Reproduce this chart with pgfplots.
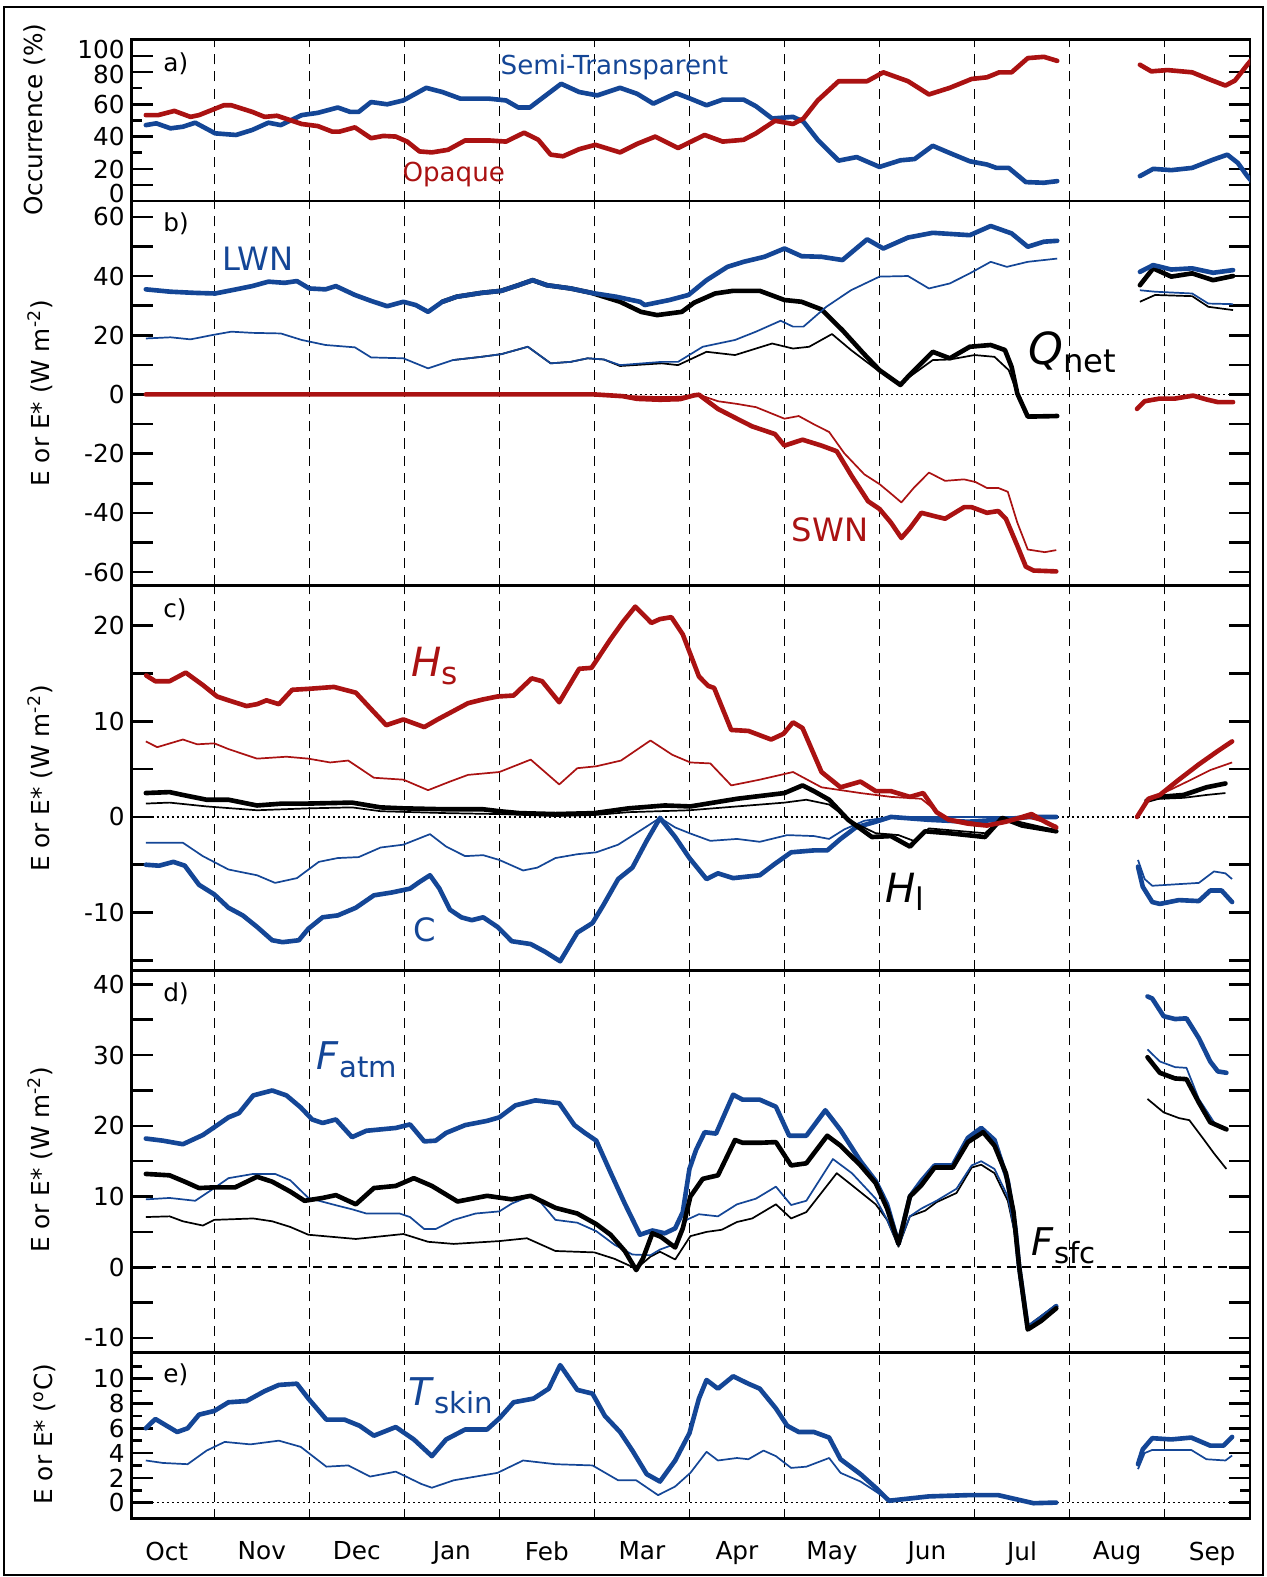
\documentclass[border=0pt]{standalone}
\usepackage{fontspec}
\setmainfont{DejaVu Sans}
\usepackage{pgfplots}
\pgfplotsset{compat=1.18}
\definecolor{cblue}{RGB}{20,70,150}
\definecolor{cred}{RGB}{170,18,18}
\newcommand{\fs}[1]{\fontsize{#1}{#1}\selectfont}
\newcommand{\sublab}[5]{{\fs{#1}\itshape #2\/}\raisebox{-#5}{\fs{#3}#4}}
\newcommand{\sh}[2]{\raisebox{#1}[\height][\depth]{#2}}
\newcommand{\monthlines}[2]{\pgfplotsinvokeforeach{1,...,11}{\draw[black,line width=0.6pt,dash pattern=on 5pt off 3.5pt] (axis cs:##1,#1) -- (axis cs:##1,#2);}}
\pgfplotsset{
  panel/.style={
    scale only axis, width=556pt, anchor=north west,
    xmin=0.132, xmax=11.90,
    axis line style={line width=1.3pt},
    every tick/.style={line width=1.3pt, black},
    tick align=inside,
    ytick pos=both, yticklabel pos=left,
    xtick=\empty,
    major tick length=10.5pt, minor tick length=5pt,
    yticklabel style={font=\fs{12.3}, /pgf/number format/assume math mode=true},
    clip=true,
  },
  thick/.style={line width=2.3pt, line join=round, line cap=round},
  thin/.style={line width=0.85pt, line join=round},
}
\begin{document}
\begin{tikzpicture}
\path (0,0) rectangle (629.5pt,-784pt);
\draw[line width=1pt] (2pt,-3.5pt) rectangle (628pt,-783pt);
% y labels
\node[rotate=90,font=\fs{12.3}] at (17.5pt,-59.5pt) {Occurrence (\%)};
\node[rotate=90,font=\fs{12.3}] at (20pt,-195.5pt) {E or E* (W m\textsuperscript{-2})};
\node[rotate=90,font=\fs{12.3}] at (20pt,-387pt) {E or E* (W m\textsuperscript{-2})};
\node[rotate=90,font=\fs{12.3}] at (20pt,-576.5pt) {E or E* (W m\textsuperscript{-2})};
\node[rotate=90,font=\fs{12.3}] at (22pt,-713pt) {E or E* (\textsuperscript{o}C)};

% ---------------- panel a
\begin{axis}[panel, at={(65.5pt,-19.75pt)}, height=80.25pt, ymin=0, ymax=100,
  ytick={10,20,40,60,80,90},
  yticklabels={\sh{-4pt}{0},\sh{-0.5pt}{20},40,60,\sh{-1pt}{80},\sh{3pt}{100}},
  minor ytick={30,50,70}]
\monthlines{0}{100}
\addplot[cblue,thick] coordinates {(0.28,47.1)(0.39,48.2)(0.54,45.1)(0.67,46.1)(0.80,48.6)(1.01,42.0)(1.23,41.0)(1.40,44.1)(1.57,48.6)(1.70,47.1)(1.92,53.3)(2.09,54.7)(2.30,58.0)(2.43,55.3)(2.52,55.3)(2.65,61.4)(2.82,60.0)(2.99,62.4)(3.23,70.2)(3.40,67.6)(3.59,63.5)(3.89,63.5)(4.07,62.4)(4.20,58.0)(4.32,58.0)(4.65,72.7)(4.84,67.6)(5.03,65.5)(5.27,70.2)(5.45,66.5)(5.62,60.4)(5.86,66.9)(6.01,63.5)(6.18,59.4)(6.35,62.9)(6.57,62.9)(6.70,58.8)(6.87,51.2)(7.09,52.2)(7.20,49.2)(7.35,38.0)(7.57,25.1)(7.76,27.3)(8.0,21.2)(8.22,25.3)(8.37,26.1)(8.56,34.3)(8.74,29.8)(8.95,24.7)(9.13,22.7)(9.23,20.6)(9.36,20.6)(9.54,11.8)(9.73,11.4)(9.87,12.4)};
\addplot[cblue,thick] coordinates {(10.74,15.5)(10.88,20.0)(11.07,19.2)(11.29,20.6)(11.51,25.7)(11.66,28.8)(11.77,23.7)(11.87,15.5)(11.92,12)};
\addplot[cred,thick] coordinates {(0.28,53.3)(0.41,53.3)(0.58,55.9)(0.75,52.2)(0.84,53.3)(1.10,59.4)(1.18,59.4)(1.40,55.3)(1.53,52.2)(1.66,52.9)(1.92,47.8)(2.09,46.5)(2.24,43.1)(2.32,43.1)(2.48,45.7)(2.65,39.0)(2.78,40.4)(2.91,40.0)(3.03,36.9)(3.16,30.8)(3.29,30.2)(3.46,31.8)(3.64,37.6)(3.89,37.6)(4.07,36.9)(4.26,42.4)(4.41,38.0)(4.54,28.8)(4.67,27.8)(4.84,32.2)(5.01,34.9)(5.27,30.2)(5.45,35.5)(5.64,40.0)(5.88,32.9)(6.16,41.0)(6.35,36.9)(6.57,38.0)(6.70,42.0)(6.90,49.8)(7.09,47.8)(7.20,51.2)(7.35,62.4)(7.57,74.3)(7.87,74.3)(8.04,79.8)(8.30,74.3)(8.52,66.1)(8.74,70.2)(8.97,75.7)(9.13,76.7)(9.26,79.8)(9.39,79.8)(9.56,88.6)(9.73,89.4)(9.87,86.9)};
\addplot[cred,thick] coordinates {(10.74,84.5)(10.86,80.4)(11.03,81.2)(11.29,79.8)(11.46,75.7)(11.64,71.6)(11.74,74.7)(11.87,84.5)(11.92,88)};
\node[anchor=west,font=\fs{12.3}] at (axis cs:0.39,85) {a)};
\node[text=cblue,font=\fs{13}] at (axis cs:5.21,82.9) {Semi-Transparent};
\node[text=cred,font=\fs{13}] at (axis cs:3.52,16.2) {Opaque};
\end{axis}

% ---------------- panel b
\begin{axis}[panel, at={(65.5pt,-100pt)}, height=191pt, ymin=-64.5, ymax=65.3,
  ytick={-60,-50,...,60}, yticklabels={-60,,-40,,-20,,0,,20,,40,,60}]
\monthlines{-64.5}{65.3}
\draw[black,line width=0.9pt,dash pattern=on 1pt off 1.5pt] (axis cs:0.132,0) -- (axis cs:11.9,0);
\addplot[black,thin] coordinates {(3.51,11.6)(3.81,12.7)(4.02,13.6)(4.30,16.1)(4.54,10.5)(4.75,11.0)(4.93,12.2)(5.10,11.8)(5.27,9.6)(5.71,10.5)(5.88,9.9)(6.18,14.4)(6.48,13.3)(6.87,17.2)(7.09,15.5)(7.26,16.1)(7.50,20.4)(7.70,15.0)(8.0,7.7)(8.22,3.7)(8.56,11.6)(8.74,11.8)(9.0,13.3)(9.21,12.7)(9.36,8.2)(9.45,0.3)(9.56,-7.0)(9.87,-7.0)};
\addplot[black,thin] coordinates {(10.74,31.3)(10.90,33.6)(11.29,33.2)(11.46,29.6)(11.72,28.5)};
\addplot[black,thick] coordinates {(3.40,31.3)(3.55,33.0)(3.81,34.3)(4.02,35.0)(4.20,36.9)(4.35,38.6)(4.50,36.9)(4.75,35.8)(4.97,34.3)(5.27,31.3)(5.49,27.9)(5.66,26.8)(5.92,27.9)(6.05,31.0)(6.27,34.1)(6.46,35.0)(6.74,35.0)(7.0,31.9)(7.18,31.3)(7.39,28.7)(7.61,21.7)(7.83,13.9)(8.0,8.2)(8.22,3.2)(8.30,6.0)(8.56,14.4)(8.74,12.2)(8.95,16.1)(9.17,16.7)(9.32,15.0)(9.39,9.3)(9.45,0.3)(9.56,-7.5)(9.87,-7.3)};
\addplot[black,thick] coordinates {(10.74,36.9)(10.88,42.6)(11.07,39.8)(11.29,40.9)(11.51,38.6)(11.72,40.0)};
\addplot[cblue,thin] coordinates {(0.28,18.9)(0.54,19.3)(0.75,18.6)(0.97,20.0)(1.18,21.2)(1.40,20.8)(1.70,20.6)(1.92,18.4)(2.17,16.7)(2.48,15.9)(2.65,12.5)(2.99,12.2)(3.25,8.8)(3.51,11.6)(3.81,12.7)(4.02,13.6)(4.30,16.1)(4.54,10.5)(4.75,11.0)(4.93,12.2)(5.10,11.8)(5.27,9.9)(5.71,11.0)(5.88,11.0)(6.14,16.1)(6.48,18.4)(6.70,21.2)(6.96,24.9)(7.09,22.9)(7.20,22.9)(7.44,29.6)(7.70,35.2)(8.0,39.8)(8.30,40.0)(8.52,35.8)(8.74,37.5)(8.95,40.9)(9.17,44.8)(9.34,43.1)(9.56,44.8)(9.87,45.9)};
\addplot[cblue,thin] coordinates {(10.74,35.2)(10.90,34.7)(11.29,34.1)(11.46,30.7)(11.72,30.5)};
\addplot[cblue,thick] coordinates {(0.28,35.5)(0.54,34.7)(0.80,34.3)(1.01,34.1)(1.23,35.5)(1.40,36.6)(1.57,38.1)(1.74,37.7)(1.87,38.3)(2.0,35.8)(2.17,35.5)(2.28,36.6)(2.48,33.6)(2.65,31.6)(2.82,29.8)(2.99,31.3)(3.12,30.2)(3.25,27.9)(3.40,31.3)(3.55,33.0)(3.81,34.3)(4.02,35.0)(4.20,36.9)(4.35,38.6)(4.50,36.9)(4.75,35.8)(4.97,34.3)(5.23,33.0)(5.48,31.3)(5.53,30.2)(5.79,31.9)(5.99,33.6)(6.18,38.6)(6.40,43.1)(6.57,44.8)(6.79,46.5)(7.0,49.3)(7.18,46.7)(7.39,46.5)(7.61,45.4)(7.87,52.4)(8.04,49.3)(8.30,53.0)(8.56,54.6)(8.95,53.8)(9.17,56.9)(9.39,54.4)(9.56,49.9)(9.73,51.6)(9.87,51.9)};
\addplot[cblue,thick] coordinates {(10.74,41.4)(10.88,43.7)(11.07,42.2)(11.29,42.6)(11.51,41.1)(11.72,42.0)};
\addplot[cred,thin] coordinates {(0.28,0)(5.0,0)(5.4,-0.6)(5.69,-0.9)(5.9,-0.8)(6.05,-0.2)(6.10,-0.1)(6.30,-2.3)(6.50,-3.2)(6.70,-4.3)(6.90,-6.9)(7.0,-8.2)(7.15,-7.3)(7.31,-10.1)(7.47,-12.7)(7.63,-19.9)(7.84,-27.0)(8.0,-30.3)(8.12,-33.5)(8.23,-36.5)(8.36,-31.6)(8.52,-26.4)(8.69,-29.2)(8.89,-28.7)(9.01,-29.6)(9.13,-31.6)(9.25,-31.6)(9.35,-32.9)(9.45,-43.3)(9.56,-52.4)(9.74,-53.3)(9.86,-52.6)};
\addplot[cred,thick] coordinates {(0.28,0)(5.0,0)(5.3,-0.6)(5.45,-1.5)(5.69,-1.8)(5.9,-1.6)(6.05,-0.3)(6.10,-0.1)(6.30,-4.9)(6.50,-8.2)(6.66,-10.8)(6.90,-13.4)(7.0,-17.3)(7.19,-15.3)(7.39,-17.3)(7.55,-19.2)(7.71,-27.7)(7.88,-36.1)(8.0,-38.7)(8.12,-43.3)(8.23,-48.5)(8.32,-45.2)(8.44,-40.0)(8.60,-41.3)(8.69,-42.0)(8.89,-38.1)(8.97,-38.1)(9.13,-40.0)(9.25,-39.4)(9.33,-42.0)(9.45,-51.1)(9.54,-58.2)(9.62,-59.5)(9.86,-59.8)};
\addplot[cred,thick] coordinates {(10.71,-4.9)(10.79,-2.3)(10.95,-1.4)(11.11,-1.4)(11.3,-0.4)(11.44,-1.7)(11.56,-2.6)(11.72,-2.6)};
\node[anchor=west,font=\fs{12.3}] at (axis cs:0.39,57.8) {b)};
\node[text=cblue,font=\fs{16}] at (axis cs:1.46,45.9) {LWN};
\node[text=cred,font=\fs{16}] at (axis cs:7.48,-45.8) {SWN};
\node at (axis cs:10.03,14.3) {\sublab{22}{Q}{16}{net}{4pt}};
\end{axis}

% ---------------- panel c
\begin{axis}[panel, at={(65.5pt,-291pt)}, height=191.5pt, ymin=-16.07, ymax=24.23,
  ytick={-15,-10,...,20}, yticklabels={,-10,,0,,10,,20}]
\monthlines{-16.07}{24.23}
\draw[black,line width=0.9pt,dash pattern=on 1pt off 1.5pt] (axis cs:0.132,0) -- (axis cs:11.9,0);
\addplot[cblue,thin] coordinates {(0.28,-2.7)(0.67,-2.7)(0.88,-4.1)(1.15,-5.5)(1.45,-6.1)(1.64,-6.9)(1.87,-6.4)(2.10,-4.7)(2.30,-4.3)(2.52,-4.2)(2.75,-3.2)(2.99,-2.9)(3.27,-1.8)(3.44,-3.1)(3.64,-4.1)(3.83,-4.0)(4.0,-4.5)(4.25,-5.6)(4.40,-5.3)(4.59,-4.3)(4.82,-3.9)(5.02,-3.7)(5.25,-2.9)(5.44,-1.7)(5.69,-0.1)(5.85,-1.1)(6.0,-1.7)(6.22,-2.5)(6.5,-2.3)(6.74,-2.6)(7.03,-1.9)(7.31,-2.0)(7.47,-2.3)(7.63,-1.3)(7.84,-0.4)(8.12,0)(9.86,0)};
\addplot[cblue,thin] coordinates {(10.72,-4.5)(10.79,-6.5)(10.87,-7.2)(11.36,-6.9)(11.52,-5.7)(11.64,-5.9)(11.71,-6.5)};
\addplot[cblue,thick] coordinates {(0.28,-5.0)(0.42,-5.1)(0.57,-4.7)(0.69,-5.1)(0.84,-7.1)(1.0,-8.1)(1.15,-9.5)(1.30,-10.3)(1.45,-11.5)(1.61,-12.9)(1.72,-13.1)(1.89,-12.9)(1.99,-11.7)(2.14,-10.5)(2.30,-10.3)(2.49,-9.5)(2.68,-8.2)(2.87,-7.9)(3.06,-7.5)(3.16,-6.8)(3.27,-6.1)(3.37,-7.5)(3.48,-9.7)(3.60,-10.5)(3.71,-10.8)(3.83,-10.5)(3.98,-11.5)(4.13,-13.0)(4.33,-13.3)(4.48,-14.1)(4.64,-15.1)(4.82,-12.1)(4.98,-11.1)(5.09,-9.3)(5.25,-6.5)(5.40,-5.3)(5.55,-2.5)(5.69,-0.1)(5.85,-2.1)(6.0,-4.3)(6.18,-6.5)(6.30,-5.9)(6.46,-6.4)(6.74,-6.1)(6.90,-4.9)(7.07,-3.7)(7.31,-3.5)(7.45,-3.5)(7.59,-2.3)(7.75,-1.1)(7.96,-0.5)(8.12,0)(8.52,-0.3)(8.93,-0.5)(9.25,-0.3)(9.58,0)(9.86,0)};
\addplot[cblue,thick] coordinates {(10.72,-5.2)(10.77,-7.3)(10.87,-8.9)(10.95,-9.1)(11.15,-8.7)(11.36,-8.8)(11.48,-7.7)(11.6,-7.7)(11.71,-8.9)};
\addplot[black,thin] coordinates {(0.28,1.4)(0.53,1.5)(0.92,1.1)(1.45,0.7)(1.99,0.9)(2.45,1.0)(2.75,0.6)(3.44,0.4)(4.0,0.3)(4.59,0.1)(5.0,0.2)(5.36,0.5)(6.0,0.7)(6.5,1.1)(7.0,1.5)(7.23,1.8)(7.47,1.3)(7.71,-0.5)(7.96,-1.7)(8.2,-1.9)(8.36,-2.5)(8.52,-1.2)(9.11,-1.7)(9.29,-0.1)(9.86,-1.4)};
\addplot[black,thin] coordinates {(10.81,1.7)(10.95,1.9)(11.2,2.0)(11.44,2.3)(11.64,2.5)};
\addplot[black,thick] coordinates {(0.28,2.5)(0.53,2.6)(0.67,2.3)(0.92,1.8)(1.15,1.8)(1.45,1.2)(1.72,1.4)(1.99,1.4)(2.45,1.5)(2.75,1.0)(2.99,0.9)(3.44,0.8)(3.83,0.8)(4.0,0.6)(4.21,0.4)(4.59,0.3)(5.0,0.4)(5.36,0.9)(5.74,1.2)(6.01,1.1)(6.5,1.9)(7.0,2.5)(7.19,3.3)(7.31,2.7)(7.47,1.8)(7.67,-0.3)(7.92,-2.1)(8.12,-2.0)(8.32,-3.1)(8.48,-1.5)(8.73,-1.7)(9.11,-2.1)(9.29,-0.1)(9.5,-0.9)(9.86,-1.5)};
\addplot[black,thick] coordinates {(10.81,1.7)(10.95,2.1)(11.2,2.3)(11.44,3.1)(11.64,3.5)};
\addplot[cred,thin] coordinates {(0.28,7.9)(0.40,7.3)(0.67,8.1)(0.82,7.6)(1.0,7.7)(1.15,7.1)(1.45,6.1)(1.76,6.3)(1.99,6.1)(2.22,5.7)(2.41,5.9)(2.68,4.1)(2.99,3.9)(3.25,2.8)(3.48,3.7)(3.67,4.4)(4.0,4.7)(4.33,6.0)(4.63,3.4)(4.82,5.1)(5.02,5.3)(5.28,5.9)(5.59,8.0)(5.82,6.5)(6.01,5.7)(6.22,5.6)(6.44,3.3)(6.74,3.9)(7.09,4.7)(7.39,3.1)(7.80,2.5)(8.12,2.1)(8.44,1.9)(8.69,-0.1)(9.13,-0.8)(9.33,-0.5)(9.58,-0.1)(9.86,-0.9)};
\addplot[cred,thin] coordinates {(10.71,0)(10.83,1.7)(11.03,2.7)(11.28,3.9)(11.48,4.9)(11.71,5.7)};
\addplot[cred,thick] coordinates {(0.284,14.8)(0.38,14.2)(0.53,14.2)(0.70,15.1)(0.88,13.8)(1.03,12.6)(1.15,12.2)(1.34,11.6)(1.45,11.8)(1.55,12.2)(1.68,11.8)(1.82,13.3)(1.99,13.4)(2.26,13.6)(2.49,13.0)(2.64,11.4)(2.81,9.6)(2.99,10.2)(3.21,9.4)(3.35,10.2)(3.52,11.1)(3.67,11.9)(3.83,12.3)(3.98,12.6)(4.15,12.7)(4.34,14.5)(4.45,14.2)(4.63,12.0)(4.84,15.5)(4.97,15.6)(5.17,18.6)(5.30,20.4)(5.43,22.0)(5.60,20.3)(5.69,20.7)(5.81,20.9)(5.93,19.1)(6.10,14.7)(6.20,13.7)(6.26,13.5)(6.44,9.1)(6.62,9.0)(6.86,8.1)(6.99,8.7)(7.09,9.9)(7.19,9.3)(7.39,4.7)(7.59,3.1)(7.80,3.7)(7.96,2.7)(8.12,2.7)(8.32,2.1)(8.46,2.5)(8.60,0.5)(8.73,-0.3)(8.93,-0.7)(9.13,-0.9)(9.33,-0.5)(9.47,-0.1)(9.60,0.3)(9.74,-0.5)(9.86,-1.1)};
\addplot[cred,thick] coordinates {(10.71,0)(10.83,1.9)(10.95,2.3)(11.15,3.9)(11.36,5.5)(11.56,6.9)(11.71,7.9)};
\node[anchor=west,font=\fs{12.3}] at (axis cs:0.39,21.7) {c)};
\node[text=cred] at (axis cs:3.32,15.8) {\sublab{20}{H}{15.5}{s}{4pt}};
\node at (axis cs:8.27,-7.8) {\sublab{20}{H}{15.5}{l}{4pt}};
\node[text=cblue,font=\fs{16}] at (axis cs:3.21,-11.8) {C};
\end{axis}

% ---------------- panel d
\begin{axis}[panel, at={(65.5pt,-482.5pt)}, height=190pt, ymin=-12.09, ymax=41.96,
  ytick={-10,-5,...,40}, yticklabels={-10,,0,,10,,20,,30,,40}]
\monthlines{-12.09}{41.96}
\draw[black,line width=1.2pt,dash pattern=on 4.5pt off 3pt] (axis cs:0.132,0) -- (axis cs:11.9,0);
\addplot[black,thin] coordinates {(0.28,7.1)(0.53,7.2)(0.67,6.5)(0.88,5.9)(1.0,6.7)(1.41,6.9)(1.61,6.5)(1.80,5.7)(1.99,4.6)(2.49,4.0)(2.99,4.7)(3.25,3.6)(3.52,3.3)(4.0,3.7)(4.29,4.1)(4.59,2.3)(5.0,2.1)(5.21,1.2)(5.44,-0.2)(5.59,1.5)(5.69,2.2)(5.85,1.1)(6.01,4.4)(6.18,5.0)(6.34,5.3)(6.5,6.4)(6.66,6.9)(6.91,8.9)(7.07,6.9)(7.23,7.8)(7.55,13.3)(7.71,11.6)(7.96,8.9)(8.08,6.7)(8.2,2.9)(8.32,7.2)(8.48,8.0)(8.6,9.2)(8.81,10.5)(8.97,14.1)(9.07,14.5)(9.21,13.3)(9.35,9.4)(9.43,4.4)(9.47,0)(9.56,-8.3)(9.86,-5.3)};
\addplot[black,thin] coordinates {(10.82,23.8)(10.99,21.9)(11.15,21.1)(11.26,20.8)(11.4,18.3)(11.52,16.1)(11.65,13.9)};
\addplot[cblue,thin] coordinates {(0.28,9.6)(0.53,9.8)(0.80,9.4)(1.0,11.2)(1.15,12.6)(1.41,13.2)(1.64,13.2)(1.80,12.3)(1.99,9.8)(2.30,8.7)(2.45,8.2)(2.60,7.6)(2.95,7.6)(3.06,7.1)(3.21,5.4)(3.33,5.4)(3.52,6.7)(3.75,7.6)(4.0,7.9)(4.13,9.0)(4.33,10.1)(4.44,9.1)(4.59,6.7)(4.82,6.3)(5.02,5.1)(5.21,3.2)(5.40,1.8)(5.59,1.7)(5.69,2.5)(5.85,3.3)(5.97,6.7)(6.10,7.5)(6.30,7.2)(6.50,8.9)(6.70,9.7)(6.91,11.4)(7.07,8.8)(7.23,9.4)(7.51,15.3)(7.71,13.3)(7.96,9.7)(8.08,6.7)(8.2,3.1)(8.32,7.2)(8.44,8.3)(8.6,9.4)(8.81,11.1)(8.97,14.4)(9.07,15.0)(9.21,13.9)(9.35,10.0)(9.43,4.4)(9.47,0)(9.56,-8.3)(9.86,-5.3)};
\addplot[cblue,thin] coordinates {(10.82,30.8)(10.95,29.1)(11.11,28.3)(11.23,28.2)(11.36,23.8)(11.52,20.5)(11.65,19.4)};
\addplot[cblue,thick] coordinates {(0.28,18.2)(0.46,17.9)(0.67,17.4)(0.88,18.7)(1.0,19.8)(1.15,21.2)(1.26,21.8)(1.41,24.3)(1.61,25.0)(1.76,24.3)(1.91,22.6)(2.03,20.9)(2.14,20.4)(2.28,20.9)(2.45,18.4)(2.60,19.3)(2.91,19.7)(3.06,20.2)(3.21,17.8)(3.33,17.9)(3.44,19.0)(3.64,20.1)(3.87,20.7)(4.0,21.2)(4.17,22.9)(4.38,23.6)(4.63,23.2)(4.79,20.1)(4.90,19.0)(5.02,17.9)(5.17,13.4)(5.32,9.0)(5.48,4.6)(5.61,5.2)(5.74,4.8)(5.85,5.5)(5.93,7.8)(6.0,13.9)(6.07,16.6)(6.16,19.1)(6.28,18.9)(6.46,24.4)(6.56,23.7)(6.74,23.7)(6.91,22.7)(7.05,18.6)(7.23,18.6)(7.43,22.2)(7.59,19.4)(7.80,15.0)(7.96,12.2)(8.08,8.9)(8.2,3.3)(8.32,10.0)(8.44,12.2)(8.58,14.4)(8.77,14.4)(8.93,18.3)(9.07,19.7)(9.21,18.0)(9.35,12.2)(9.43,5.5)(9.47,0)(9.56,-8.6)(9.70,-7.2)(9.86,-5.5)};
\addplot[cblue,thick] coordinates {(10.82,38.3)(10.87,38.0)(10.99,35.5)(11.11,35.1)(11.23,35.2)(11.36,32.4)(11.48,29.1)(11.56,27.7)(11.65,27.5)};
\addplot[black,thick] coordinates {(0.28,13.2)(0.53,13.0)(0.69,12.1)(0.84,11.2)(1.0,11.3)(1.22,11.3)(1.45,12.8)(1.61,12.1)(1.80,10.7)(1.95,9.4)(2.14,9.8)(2.28,10.2)(2.49,8.9)(2.68,11.2)(2.91,11.5)(3.10,12.6)(3.29,11.5)(3.56,9.3)(3.87,10.1)(4.13,9.6)(4.33,10.1)(4.59,8.4)(4.82,7.6)(5.02,6.1)(5.17,4.6)(5.32,2.3)(5.44,-0.4)(5.51,1.2)(5.61,4.8)(5.70,4.3)(5.85,2.8)(5.93,5.5)(6.01,10.0)(6.14,12.5)(6.30,13.0)(6.48,18.0)(6.56,17.6)(6.74,17.6)(6.91,17.7)(7.07,14.4)(7.23,14.7)(7.45,18.6)(7.59,17.2)(7.80,14.4)(7.96,11.9)(8.08,8.3)(8.2,3.3)(8.32,10.0)(8.44,11.6)(8.58,14.1)(8.77,14.1)(8.93,17.7)(9.09,19.1)(9.21,17.2)(9.33,13.3)(9.41,7.8)(9.47,0)(9.56,-8.8)(9.70,-7.6)(9.86,-5.8)};
\addplot[black,thick] coordinates {(10.82,29.7)(10.95,27.5)(11.11,26.7)(11.23,26.6)(11.36,23.3)(11.48,20.5)(11.65,19.5)};
\node[anchor=west,font=\fs{12.3}] at (axis cs:0.39,38.7) {d)};
\node[text=cblue] at (axis cs:2.50,29.4) {\sublab{19}{F}{14.5}{atm}{4pt}};
\node at (axis cs:9.94,3.1) {\sublab{19}{F}{14.5}{sfc}{4pt}};
\end{axis}

% ---------------- panel e
\begin{axis}[panel, at={(65.5pt,-672.5pt)}, height=82.5pt, ymin=-1.3, ymax=12.1,
  ytick={0,2,...,10}, minor ytick={1,3,...,11},
  xtick={0.5,1.5,...,11.5}, xtick pos=bottom, xtick style={draw=none},
  xticklabels={Oct,Nov,Dec,Jan,Feb,Mar,Apr,May,Jun,Jul,Aug,Sep},
  xticklabel style={font=\fs{12.3}, yshift=-8pt}]
\monthlines{-1.3}{12.1}
\draw[black,line width=0.9pt,dash pattern=on 1pt off 1.5pt] (axis cs:0.132,0) -- (axis cs:11.9,0);
\addplot[cblue,thin] coordinates {(0.28,3.4)(0.46,3.2)(0.72,3.1)(0.92,4.2)(1.11,4.9)(1.38,4.7)(1.68,5.0)(1.91,4.5)(2.18,2.9)(2.41,3.0)(2.64,2.1)(2.91,2.5)(3.18,1.5)(3.29,1.2)(3.52,1.8)(3.98,2.4)(4.25,3.4)(4.59,3.1)(4.98,3.0)(5.25,1.8)(5.44,1.8)(5.67,0.6)(5.85,1.3)(6.01,2.4)(6.18,4.1)(6.30,3.4)(6.5,3.6)(6.62,3.5)(6.78,4.2)(6.91,3.75)(7.07,2.8)(7.23,2.9)(7.47,3.6)(7.59,2.4)(7.80,1.7)(7.96,0.9)(8.1,0.15)(8.28,0.3)(8.52,0.5)(8.93,0.6)(9.25,0.6)(9.45,0.25)(9.62,-0.05)(9.86,0)};
\addplot[cblue,thin] coordinates {(10.72,2.7)(10.79,4.0)(10.87,4.25)(11.28,4.25)(11.44,3.5)(11.64,3.4)(11.71,3.8)};
\addplot[cblue,thick] coordinates {(0.28,6.0)(0.38,6.75)(0.50,6.2)(0.61,5.7)(0.72,6.0)(0.84,7.1)(1.0,7.4)(1.15,8.1)(1.34,8.2)(1.53,9.0)(1.68,9.5)(1.87,9.6)(1.99,8.4)(2.18,6.7)(2.37,6.7)(2.53,6.2)(2.68,5.4)(2.91,6.1)(3.10,5.1)(3.29,3.75)(3.44,5.1)(3.64,5.9)(3.87,5.9)(4.0,6.8)(4.15,8.1)(4.36,8.4)(4.52,9.2)(4.64,11.1)(4.82,9.1)(4.98,8.8)(5.11,7.0)(5.27,5.7)(5.40,4.2)(5.55,2.3)(5.69,1.7)(5.85,3.4)(6.0,5.6)(6.10,8.4)(6.18,9.9)(6.30,9.2)(6.46,10.2)(6.62,9.6)(6.74,9.2)(6.91,7.6)(7.03,6.2)(7.15,5.7)(7.31,5.7)(7.47,5.25)(7.59,3.5)(7.80,2.3)(7.96,1.2)(8.1,0.15)(8.28,0.3)(8.52,0.5)(8.93,0.6)(9.25,0.6)(9.45,0.25)(9.62,-0.05)(9.86,0)};
\addplot[cblue,thick] coordinates {(10.72,3.1)(10.77,4.3)(10.87,5.2)(11.07,5.1)(11.28,5.25)(11.48,4.6)(11.62,4.6)(11.71,5.3)};
\node[anchor=west,font=\fs{12.3}] at (axis cs:0.39,10.3) {e)};
\node[text=cblue] at (axis cs:3.49,8.6) {\sublab{19}{T}{14.5}{skin}{4pt}};
\end{axis}
\end{tikzpicture}
\end{document}
